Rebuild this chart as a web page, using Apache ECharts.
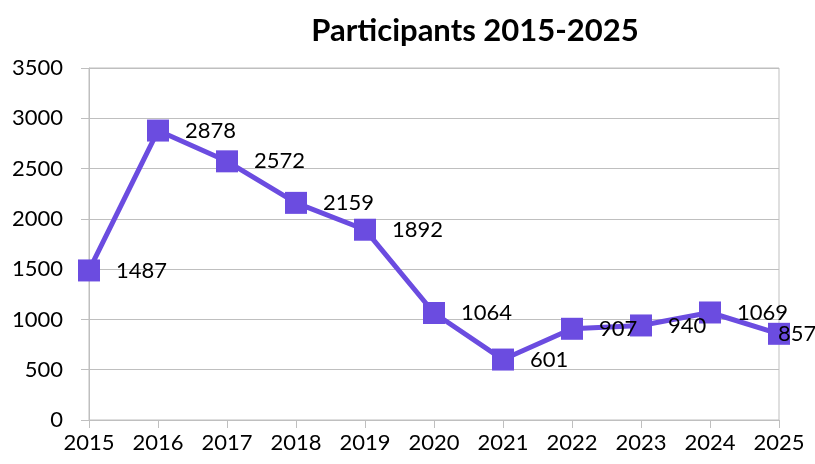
<!DOCTYPE html>
<html>
<head>
<meta charset="utf-8">
<script src="https://cdn.jsdelivr.net/npm/echarts@6/dist/echarts.min.js"></script>
<style>
   html, body { margin: 0; padding: 0; background: #fff; }
   #main { width: 815px; height: 464px; }
</style>
</head>
<body>
<div id="main"></div>
<script>
var years = ['2015', '2016', '2017', '2018', '2019', '2020', '2021', '2022', '2023', '2024', '2025'];
var participants = [1487, 2878, 2572, 2159, 1892, 1064, 601, 907, 940, 1069, 857];
var yTicks = [0, 500, 1000, 1500, 2000, 2500, 3000, 3500];

var chart = echarts.init(document.getElementById('main'));

// last point label sits on top of its marker in the original
var seriesData = participants.map(function (v, i) {
   if (i == participants.length - 1) {
      return { value: v, label: { offset: [-28, 0] } };
   }
   return v;
});

chart.setOption({
   animation: false,
   title: {
      text: 'Participants 2015-2025',
      left: 470,
      textAlign: 'center',
      top: 10,
      textStyle: {
         fontFamily: 'Lato',
         fontWeight: 'bold',
         fontSize: 31,
         color: '#000'
      }
   },
   grid: {
      left: 89, right: 36, top: 68, bottom: 44,
      show: true,
      borderColor: '#bfbfbf',
      borderWidth: 1
   },
   xAxis: {
      type: 'category',
      data: years,
      boundaryGap: false,
      axisLine: { lineStyle: { color: '#bfbfbf', width: 1 } },
      axisTick: { show: true, length: 8, lineStyle: { color: '#bfbfbf' } },
      axisLabel: { color: '#000', fontFamily: 'Lato', fontSize: 22, margin: 12 },
      splitLine: { show: false }
   },
   yAxis: {
      type: 'value',
      min: yTicks[0],
      max: yTicks[yTicks.length - 1],
      interval: 500,
      axisLine: { show: true, lineStyle: { color: '#bfbfbf', width: 1 } },
      axisTick: { show: true, length: 8, lineStyle: { color: '#bfbfbf' } },
      axisLabel: {
         color: '#000', fontFamily: 'Lato', fontSize: 22, margin: 26,
         formatter: function (v) { return String(v); }
      },
      splitLine: { show: true, lineStyle: { color: '#bfbfbf', width: 1 } }
   },
   series: [
      {
         type: 'line',
         data: seriesData,
         symbol: 'rect',
         symbolSize: 22,
         lineStyle: { color: '#6b4ce0', width: 5 },
         itemStyle: { color: '#6b4ce0' },
         label: {
            show: true,
            position: 'right',
            distance: 16,
            color: '#000',
            fontFamily: 'Lato',
            fontSize: 22
         }
      }
   ]
});
</script>
</body>
</html>
